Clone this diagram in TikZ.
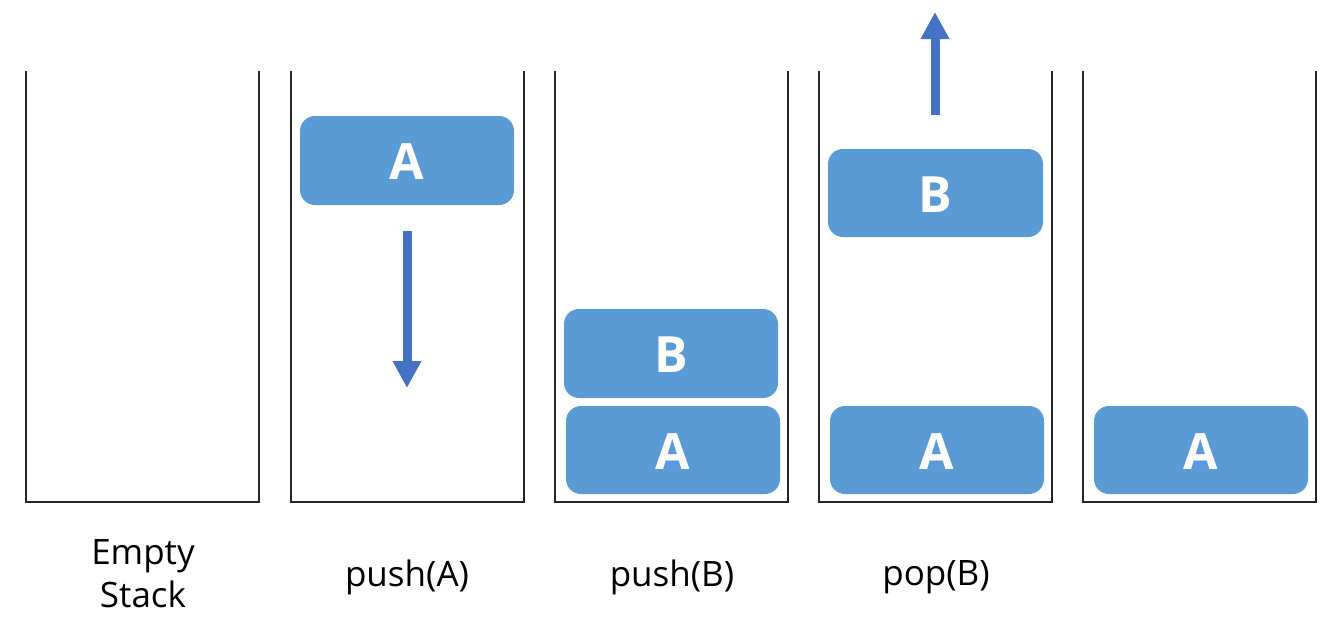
\documentclass[tikz,border=0pt]{standalone}
\usepackage{fontspec}
\setmainfont{Open Sans}
\usetikzlibrary{arrows.meta}
\definecolor{boxblue}{HTML}{5B9BD5}
\definecolor{arrowblue}{HTML}{4472C4}
\begin{document}
\begin{tikzpicture}[x=1pt,y=-1pt,
  stackline/.style={draw=black!85,line width=1.5pt},
  item/.style={fill=boxblue,rounded corners=15pt},
  itemtext/.style={text=white,font=\fontsize{50}{54}\selectfont\bfseries},
  caption/.style={font=\fontsize{35}{43}\selectfont,align=center},
  movearrow/.style={draw=arrowblue,line width=9pt,-{Triangle[width=27pt,length=27pt]}}]
\useasboundingbox (0,0) rectangle (1330,625);
% stacks
\foreach \i/\x in {1/26,2/291,3/555,4/819,5/1083}{
  \draw[stackline] (\x,71) -- (\x,502) -- (\x+233,502) -- (\x+233,71);
}
% items
\fill[item] (300,116) rectangle (514,205);
\node[itemtext] (a2) at (407,162) {A};
\fill[item] (564,309) rectangle (778,398);
\node[itemtext] (b3) at (671,355) {B};
\fill[item] (566,406) rectangle (780,494);
\node[itemtext] (a3) at (673,452) {A};
\fill[item] (828,149) rectangle (1043,237);
\node[itemtext] (b4) at (935,195) {B};
\fill[item] (830,406) rectangle (1044,494);
\node[itemtext] (a4) at (937,452) {A};
\fill[item] (1094,406) rectangle (1308,494);
\node[itemtext] (a5) at (1201,452) {A};
% arrows
\coordinate (d1) at (407,231);
\coordinate (d2) at (407,388);
\draw[movearrow] (d1) -- (d2);
\coordinate (u1) at (935,115);
\coordinate (u2) at (935,12);
\draw[movearrow] (u1) -- (u2);
% captions
\node[caption] (c1) at (143,574) {Empty\\Stack};
\node[caption] (c2) at (407,577) {push(A)};
\node[caption] (c3) at (672,577) {push(B)};
\node[caption] (c4) at (936,577) {pop(B)};
\end{tikzpicture}
\end{document}
